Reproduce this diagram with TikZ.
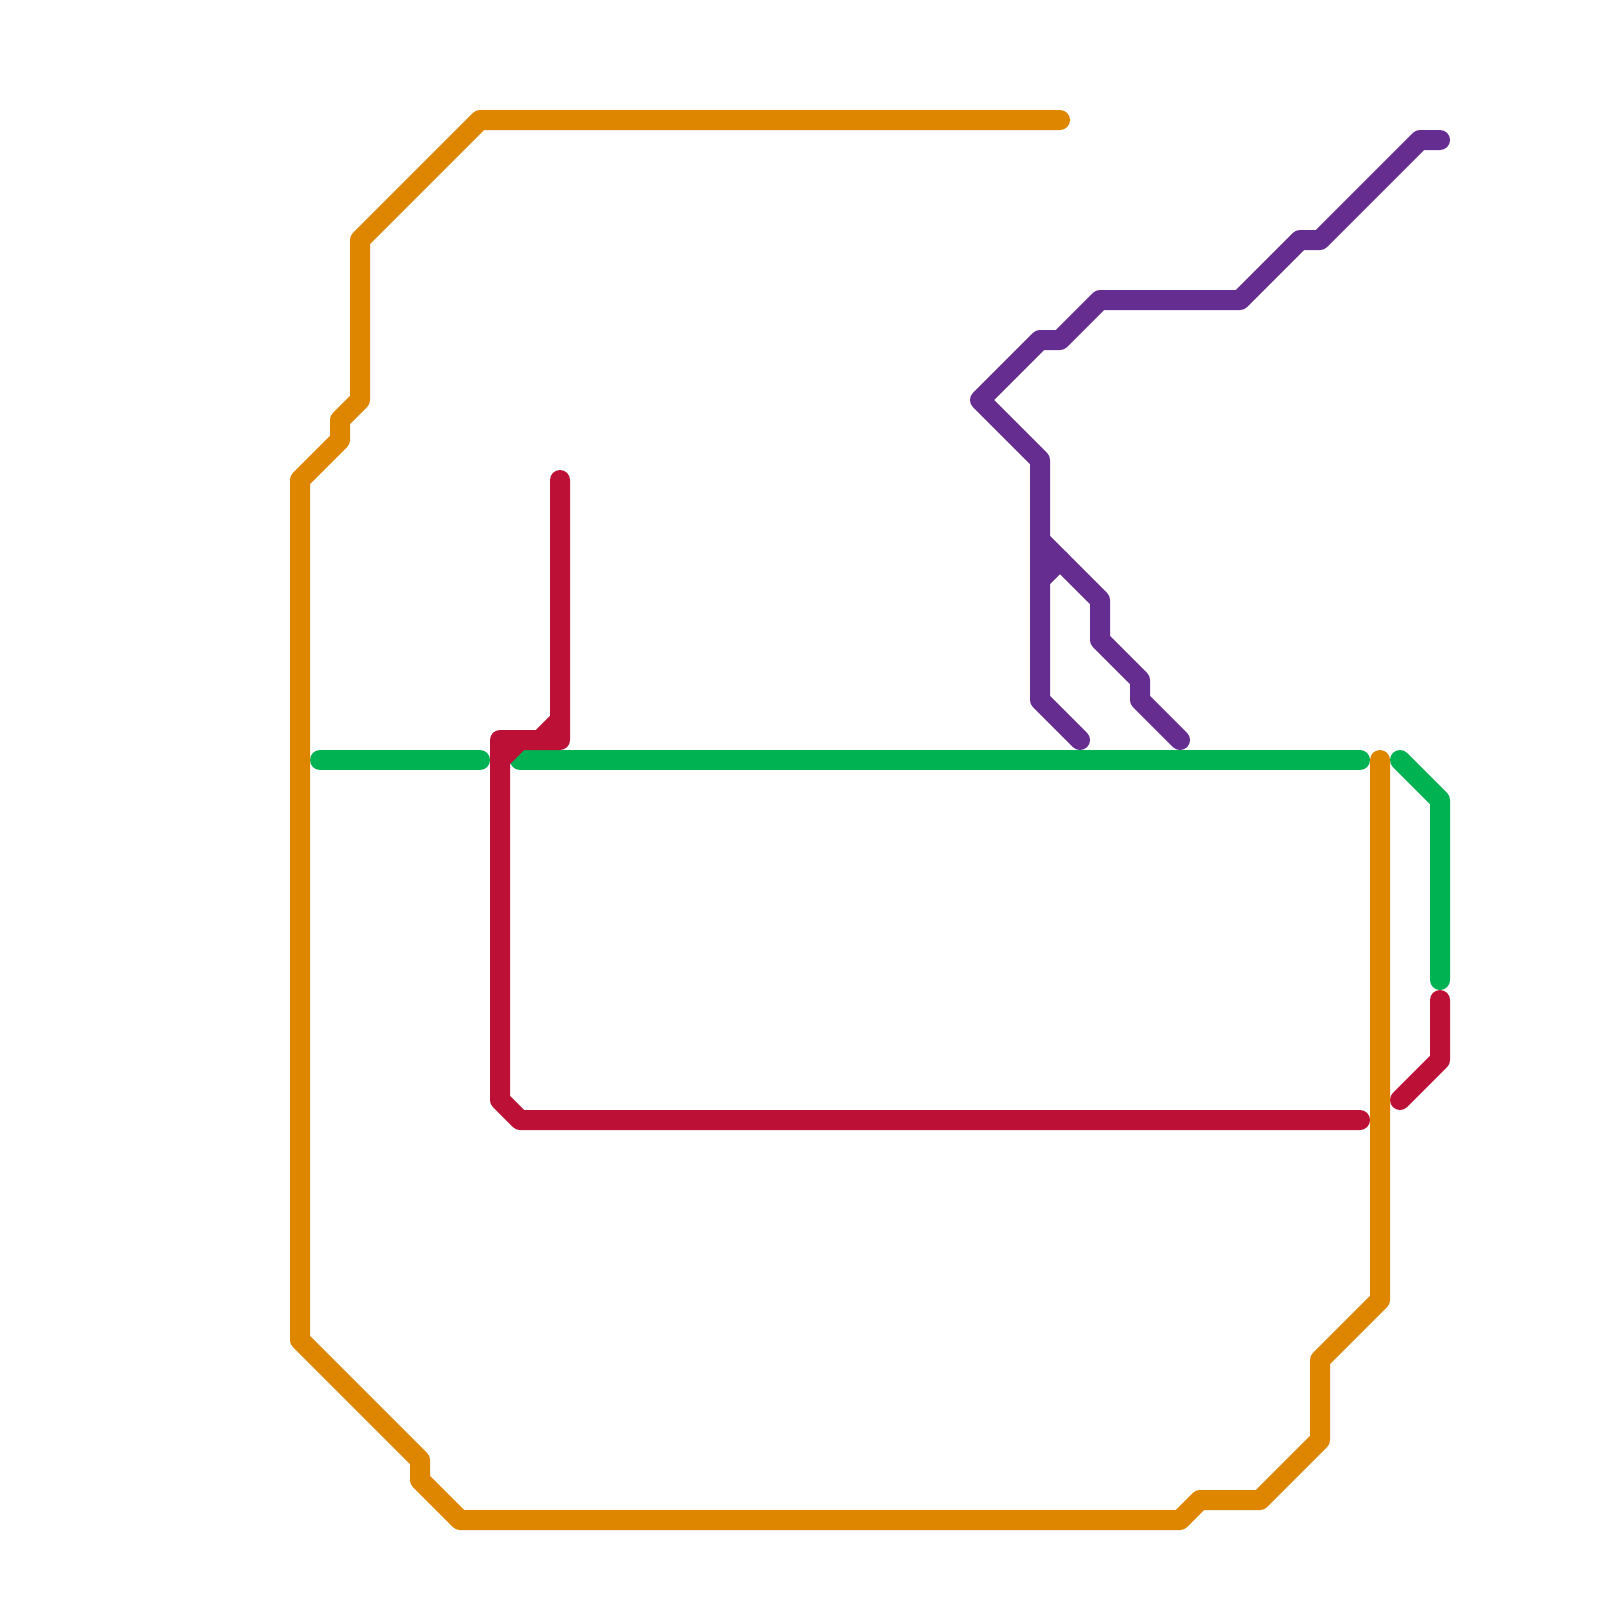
\documentclass[tikz,border=0pt]{standalone}
\usepackage{tikz}
\definecolor{lineorange}{HTML}{DF8600}
\definecolor{linegreen}{HTML}{00B251}
\definecolor{linered}{HTML}{BC1037}
\definecolor{linepurple}{HTML}{662D91}
\tikzset{
  every picture/.style={line join=round, line cap=round},
  metro/.style={line width=0.25cm},
}
\begin{document}
\begin{tikzpicture}[xscale=0.25,yscale=-0.25]
\useasboundingbox (0,0) rectangle (80,80);
\draw[metro,linegreen] (16,38)--(24,38);
\draw[metro,linegreen] (26,38)--(68,38);
\draw[metro,linegreen] (70,38)--(72,40)--(72,49);
\draw[metro,linered] (28,24)--(28,37)--(25,37)--(25,55)--(26,56)--(68,56);
\draw[metro,linered] (25,38)--(26,37);
\draw[metro,linered] (27,37)--(28,36);
\draw[metro,linered] (72,50)--(72,53)--(70,55);
\draw[metro,lineorange] (53,6)--(24,6)--(18,12)--(18,20)--(17,21)--(17,22)--(15,24)--(15,67)--(21,73)--(21,74)--(23,76)--(59,76)--(60,75)--(63,75)--(66,72)--(66,68)--(69,65)--(69,38);
\draw[metro,linepurple] (72,7)--(71,7)--(66,12)--(65,12)--(62,15)--(55,15)--(53,17)--(52,17)--(49,20)--(52,23)--(52,35)--(54,37);
\draw[metro,linepurple] (52,27)--(55,30)--(55,32)--(57,34)--(57,35)--(59,37);
\draw[metro,linepurple] (52,29)--(53,28);
\end{tikzpicture}
\end{document}
